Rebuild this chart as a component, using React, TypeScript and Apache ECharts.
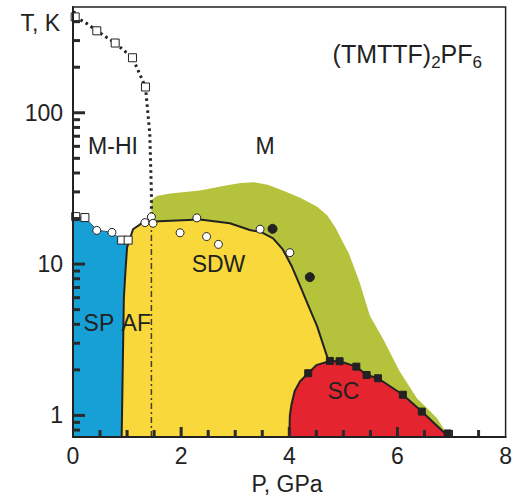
import React, { useEffect, useRef } from 'react';
import * as echarts from 'echarts';

const YMIN = 0.72;
const YMAX = 500;

const xTickValues = [0, 2, 4, 6, 8];
const xMinorTicks = [0.5, 1, 1.5, 2.5, 3, 3.5, 4.5, 5, 5.5, 6.5, 7, 7.5];
const yMajorTicks = [1, 10, 100];
const yMinorTicks = [0.8, 0.9, 2, 3, 4, 5, 6, 7, 8, 9, 20, 30, 40, 50, 60, 70, 80, 90, 200, 300, 400];

// phase boundaries (P in GPa, T in K)
const spRegion = [[0, YMIN], [0, 20.6], [0.22, 20.3], [0.44, 16.8], [0.72, 16.2], [0.9, 14.4], [1.0, 13.2], [0.97, 9], [0.94, 5.9], [0.9, YMIN]];
const sdwLine = [[0.9, YMIN], [0.94, 5.9], [0.97, 9], [1.0, 12.9], [1.11, 17], [1.29, 18.8], [1.48, 19.1], [2.35, 19.7], [2.9, 18.6], [3.27, 16.8], [3.49, 16.2], [3.7, 14.8], [3.88, 12.5], [4.05, 9.6], [4.2, 7.17], [4.35, 5.34], [4.51, 3.92], [4.71, 2.38]];
const metalRegion = [[1.45, YMIN], [1.45, 26.5], [1.55, 28.2], [1.8, 29.3], [2.35, 30.6], [2.8, 33.0], [3.1, 34.4], [3.35, 34.8], [3.6, 33.4], [3.88, 30.6], [4.2, 27.4], [4.51, 24.0], [4.7, 21.0], [4.85, 17.5], [4.98, 14.2], [5.1, 11.8], [5.3, 7.6], [5.49, 4.56], [5.73, 3.22], [6.04, 1.96], [6.36, 1.3], [6.73, 0.96], [6.95, YMIN]];
const scLine = [[4.0, YMIN], [4.01, 1.0], [4.04, 1.18], [4.1, 1.45], [4.2, 1.68], [4.35, 1.9], [4.5, 2.15], [4.75, 2.29], [4.93, 2.28], [5.24, 2.1], [5.43, 1.85], [5.64, 1.76], [6.1, 1.37], [6.45, 1.06], [6.95, YMIN]];
const mhiLine = [[0.02, 470], [0.04, 430], [0.25, 390], [0.44, 348], [0.78, 289], [1.1, 231], [1.34, 148], [1.42, 72.8], [1.45, 29.5], [1.45, 20.5]];
const afLine = [[1.45, YMIN], [1.45, 20]];
const spTopLine = [[0, 20.6], [0.22, 20.3], [0.44, 16.8], [0.72, 16.2], [0.9, 14.4], [1.0, 13.2]];

// measured points
const whiteSquares = [[0.04, 430], [0.44, 348], [0.78, 289], [1.1, 231], [1.34, 148], [0.05, 20.6], [0.22, 20.3], [0.9, 14.4], [1.02, 14.4]];
const whiteCircles = [[0.44, 16.7], [0.72, 16.2], [1.33, 18.8], [1.45, 20.5], [1.48, 18.6], [1.98, 16.1], [2.29, 20.2], [2.47, 15.2], [2.69, 13.5], [3.46, 17.0], [4.01, 11.9]];
const blackCircles = [[3.69, 17.1], [4.38, 8.2]];
const blackSquares = [[4.35, 1.9], [4.75, 2.29], [4.93, 2.28], [5.24, 2.1], [5.43, 1.85], [5.64, 1.76], [6.1, 1.37], [6.45, 1.06], [6.93, 0.76]];

const phaseLabels: { value: number[]; name: string }[] = [
  { value: [0.74, 60], name: 'M-HI' },
  { value: [3.55, 60], name: 'M' },
  { value: [2.69, 10], name: 'SDW' },
  { value: [0.48, 4.05], name: 'SP' },
  { value: [1.17, 4.05], name: 'AF' },
  { value: [5.0, 1.45], name: 'SC' },
];

const FONT = '"Liberation Sans", Arial, Helvetica, sans-serif';
const INK = '#222';
const FS = 23;

const polygon = (pts: number[][], color: string, z: number) => ({
  type: 'custom',
  coordinateSystem: 'cartesian2d',
  z,
  silent: true,
  data: [pts[0]],
  renderItem: (_p: any, api: any) => ({
    type: 'polygon',
    shape: { points: pts.map((p) => api.coord(p)) },
    style: { fill: color, stroke: null },
  }),
});

const lineS = (pts: number[][], width: number, type: any, z: number, color = INK) => ({
  type: 'line',
  data: pts,
  symbol: 'none',
  z,
  silent: true,
  lineStyle: { color, width, type },
});

const marks = (pts: number[][], symbol: string, size: number, fill: string, z: number) => ({
  type: 'scatter',
  data: pts,
  symbol,
  symbolSize: size,
  z,
  silent: true,
  itemStyle: { color: fill, borderColor: INK, borderWidth: 1, opacity: 1 },
});

export default function App() {
  const ref = useRef<HTMLDivElement>(null);
  useEffect(() => {
    if (!ref.current) return;
    const chart = echarts.init(ref.current, undefined, { renderer: 'svg' });
    const yTickData = [
      ...yMajorTicks.map((v) => [v, 12]),
      ...yMinorTicks.map((v) => [v, 7]),
    ].map(([v, len]) => ({ value: [0, v], symbolSize: [len, 3], symbolOffset: [len / 2, 0] }));
    const xTickData = [
      ...xTickValues.filter((v) => v > 0 && v < 8).map((v) => [v, 10]),
      ...xMinorTicks.map((v) => [v, 7]),
    ].map(([v, len]) => ({ value: [v, YMIN], symbolSize: [3, len], symbolOffset: [0, -len / 2] }));
    chart.setOption({
      animation: false,
      backgroundColor: '#fff',
      textStyle: { fontFamily: FONT },
      grid: { left: 73, right: 8, top: 7, bottom: 65, show: true, borderColor: INK, borderWidth: 1.5, backgroundColor: 'transparent' },
      title: {
        text: '{n|(TMTTF)}{s|2}{n|PF}{s|6}',
        right: 28,
        top: 33,
        textStyle: {
          fontWeight: 'normal',
          rich: {
            n: { fontSize: 25, fontWeight: 'normal', fontFamily: FONT, color: INK, lineHeight: 28, verticalAlign: 'bottom' },
            s: { fontSize: 17, fontWeight: 'normal', fontFamily: FONT, color: INK, lineHeight: 17, verticalAlign: 'bottom', padding: [0, 0, -5, 0] },
          },
        },
      },
      xAxis: {
        type: 'value',
        min: 0,
        max: 8,
        interval: 2,
        z: 10,
        axisLine: { show: true, lineStyle: { color: INK, width: 2 } },
        axisTick: { show: false },
        minorTick: { show: false },
        splitLine: { show: false },
        axisLabel: { fontSize: FS, color: INK, margin: 7, fontFamily: FONT, formatter: (v: number) => (xTickValues.includes(v) ? String(v) : '') },
      },
      yAxis: {
        type: 'log',
        logBase: 10,
        min: YMIN,
        max: YMAX,
        z: 10,
        axisLine: { show: true, lineStyle: { color: INK, width: 2 } },
        axisTick: { show: false },
        minorTick: { show: false },
        splitLine: { show: false },
        axisLabel: {
          fontSize: FS,
          color: INK,
          margin: 10,
          fontFamily: FONT,
          formatter: (v: number) => {
            const hit = yMajorTicks.find((t) => Math.abs(v - t) / t < 1e-6);
            return hit !== undefined ? String(hit) : '';
          },
        },
      },
      graphic: [
        { type: 'text', x: 60, y: 23, z: 20, style: { text: 'T, K', font: `${FS}px ${FONT}`, fill: INK, align: 'right', verticalAlign: 'middle', textAlign: 'right', textVerticalAlign: 'middle' } },
        { type: 'text', x: 287, y: 484, z: 20, style: { text: 'P, GPa', font: `${FS}px ${FONT}`, fill: INK, align: 'center', verticalAlign: 'middle', textAlign: 'center', textVerticalAlign: 'middle' } },
      ],
      series: [
        polygon(metalRegion, '#b5c23c', 1),
        polygon([...sdwLine, [4.71, YMIN]], '#f8d83a', 2),
        polygon(scLine, '#e4252f', 3),
        polygon(spRegion, '#17a0d6', 4),
        lineS(spTopLine, 1, 'solid', 5, '#2a5a80'),
        lineS(sdwLine, 2, 'solid', 5),
        lineS(scLine, 2, 'solid', 5),
        lineS(mhiLine, 3, [2.5, 3.5], 5, '#222'),
        lineS(afLine, 1.5, [6, 3, 2, 3], 5, '#4a3a20'),
        marks(whiteSquares, 'rect', 8, '#fff', 6),
        marks(whiteCircles, 'circle', 8, '#fff', 6),
        marks(blackCircles, 'circle', 9, INK, 6),
        marks(blackSquares, 'rect', 7, INK, 6),
        {
          type: 'scatter',
          data: [...yTickData, ...xTickData],
          symbol: 'rect',
          z: 12,
          silent: true,
          clip: false,
          itemStyle: { color: '#2a2a2a', opacity: 1 },
        },
        {
          type: 'custom',
          coordinateSystem: 'cartesian2d',
          z: 8,
          silent: true,
          clip: false,
          data: [[0, 1]],
          renderItem: (_p: any, api: any) => ({
            type: 'group',
            children: phaseLabels.map((l) => {
              const p = api.coord(l.value);
              return {
                type: 'text',
                x: p[0],
                y: p[1],
                style: { text: l.name, font: `${FS}px ${FONT}`, fill: INK, align: 'center', verticalAlign: 'middle', textAlign: 'center', textVerticalAlign: 'middle' },
              };
            }),
          }),
        },
      ],
    });
    return () => chart.dispose();
  }, []);
  return <div ref={ref} style={{ position: 'fixed', left: 0, top: 0, width: 515, height: 502 }} />;
}
